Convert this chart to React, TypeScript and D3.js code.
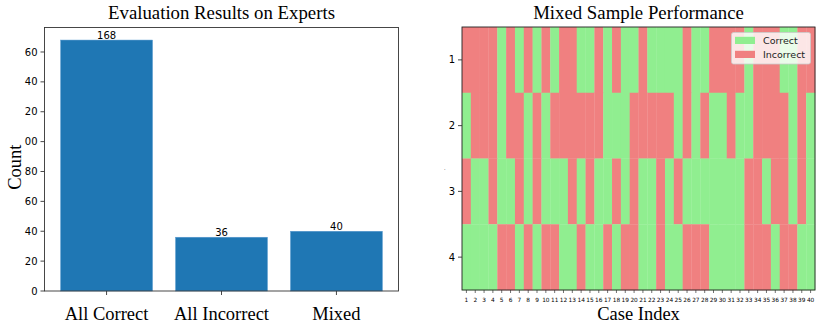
import React from "react";
import * as d3 from "d3";

// ---- Bar chart data ----
const barCategories = ["All Correct", "All Incorrect", "Mixed"];
const barValues = [168, 36, 40];
const yTickValues = [0, 20, 40, 60, 80, 100, 120, 140, 160];
const yTickLabels = ["0", "20", "40", "60", "80", "00", "20", "40", "60"];

// ---- Heatmap data (1 = Correct, 0 = Incorrect) ----
const caseIndex = d3.range(1, 41);
const rowLabels = ["1", "2", "3", "4"];
const row1 = [0,0,0,0,1,0,1,0,1,0, 1,0,0,1,1,0,1,0,1,1, 0,1,1,1,1,0,1,1,0,0, 0,0,1,0,0,0,1,1,0,0];
const row2 = [1,0,0,0,1,0,0,1,0,1, 0,0,0,0,0,0,1,1,1,0, 0,0,0,0,1,0,1,0,1,1, 0,1,1,0,0,0,0,1,0,1];
const row3 = [0,1,1,0,1,1,0,1,0,1, 1,1,0,1,0,1,1,0,1,0, 1,1,0,1,0,1,1,1,1,1, 1,1,0,0,1,0,0,1,0,1];
const row4 = [1,1,1,1,0,0,1,0,1,0, 0,1,1,0,1,1,0,1,0,0, 1,1,0,1,1,0,0,0,1,1, 1,1,0,0,0,1,0,0,1,1];
const heatRows = [row1, row2, row3, row4];
const legendLabels = ["Correct", "Incorrect"];

const GREEN = "#90ee90";
const RED = "#f08080";
const BLUE = "#1f77b4";
const SERIF = "'Liberation Serif', 'Times New Roman', serif";
const SANS = "'DejaVu Sans', sans-serif";

export default function App() {
  // Bar chart geometry
  const L = { left: 44.5, right: 398.5, top: 27.5, bottom: 291 };
  const xb = d3.scaleLinear().domain([-0.54, 2.54]).range([L.left, L.right]);
  const yb = d3.scaleLinear().domain([0, 176.4]).range([L.bottom, L.top]);
  const bw = xb(0.4) - xb(0);

  // Heatmap geometry
  const R = { left: 462, right: 815, top: 27, bottom: 290 };
  const xh = d3.scaleBand<number>().domain(caseIndex).range([R.left, R.right]);
  const yh = d3.scaleBand<string>().domain(rowLabels).range([R.top, R.bottom]);

  return (
    <svg width={830} height={325} style={{ position: "absolute", left: 0, top: 0, background: "#fff" }}>
      {/* ===== Left bar chart ===== */}
      <text x={(L.left + L.right) / 2} y={18.5} textAnchor="middle" fontFamily={SERIF} fontSize={18.8}>
        Evaluation Results on Experts
      </text>
      {barValues.map((v, i) => (
        <g key={i}>
          <rect x={xb(i) - bw} y={yb(v)} width={2 * bw} height={yb(0) - yb(v)} fill={BLUE} stroke="#5b9bd0" strokeWidth={0.5} />
          <text x={xb(i)} y={yb(v) - 1.5} textAnchor="middle" fontFamily={SANS} fontSize={10}>
            {v}
          </text>
        </g>
      ))}
      <rect x={L.left} y={L.top} width={L.right - L.left} height={L.bottom - L.top} fill="none" stroke="#333" strokeWidth={0.9} />
      {yTickValues.map((t, i) => (
        <g key={t}>
          <line x1={L.left - 4} x2={L.left} y1={yb(t)} y2={yb(t)} stroke="#333" strokeWidth={0.9} />
          <text x={L.left - 7} y={yb(t) + 3.6} textAnchor="end" fontFamily={SANS} fontSize={10}>
            {yTickLabels[i]}
          </text>
        </g>
      ))}
      {barCategories.map((c, i) => (
        <g key={c}>
          <line x1={xb(i)} x2={xb(i)} y1={L.bottom} y2={L.bottom + 4} stroke="#333" strokeWidth={0.9} />
          <text x={xb(i)} y={319.5} textAnchor="middle" fontFamily={SERIF} fontSize={18.5}>
            {c}
          </text>
        </g>
      ))}
      <text transform={`translate(21, ${(L.top + L.bottom) / 2 + 8}) rotate(-90)`} textAnchor="middle" fontFamily={SERIF} fontSize={18.5}>
        Count
      </text>

      {/* ===== Right heatmap ===== */}
      <text x={(R.left + R.right) / 2} y={18.5} textAnchor="middle" fontFamily={SERIF} fontSize={18.8}>
        Mixed Sample Performance
      </text>
      {heatRows.map((row, ri) =>
        row.map((v, ci) => (
          <rect
            key={`${ri}-${ci}`}
            x={xh(caseIndex[ci])!}
            y={yh(rowLabels[ri])!}
            width={xh.bandwidth() + 0.3}
            height={yh.bandwidth() + 0.3}
            fill={v === 1 ? GREEN : RED}
          />
        ))
      )}
      <rect x={R.left} y={R.top} width={R.right - R.left} height={R.bottom - R.top} fill="none" stroke="#222" strokeWidth={0.9} />
      {rowLabels.map((r) => (
        <g key={r}>
          <line x1={R.left - 4} x2={R.left} y1={yh(r)! + yh.bandwidth() / 2} y2={yh(r)! + yh.bandwidth() / 2} stroke="#333" strokeWidth={0.9} />
          <text x={R.left - 7} y={yh(r)! + yh.bandwidth() / 2 + 3.6} textAnchor="end" fontFamily={SANS} fontSize={10}>
            {r}
          </text>
        </g>
      ))}
      {caseIndex.map((c) => (
        <g key={c}>
          <line x1={xh(c)! + xh.bandwidth() / 2} x2={xh(c)! + xh.bandwidth() / 2} y1={R.bottom} y2={R.bottom + 3} stroke="#333" strokeWidth={0.7} />
          <text x={xh(c)! + xh.bandwidth() / 2} y={302} textAnchor="middle" fontFamily={SANS} fontSize={5.8}>
            {c}
          </text>
        </g>
      ))}
      <text x={(R.left + R.right) / 2} y={320} textAnchor="middle" fontFamily={SERIF} fontSize={18.5}>
        Case Index
      </text>
      <text x={444} y={170} fontFamily={SANS} fontSize={5}>.</text>

      {/* Legend */}
      <rect x={731.5} y={32.5} width={79} height={31.5} rx={2} fill="#fff" fillOpacity={0.8} stroke="#ccc" strokeWidth={0.8} />
      {legendLabels.map((l, i) => (
        <g key={l}>
          <rect x={735} y={36.8 + i * 14} width={20} height={7.2} fill={i === 0 ? GREEN : RED} />
          <text x={763} y={44 + i * 14} fontFamily={SANS} fontSize={9.5} fill="#222">
            {l}
          </text>
        </g>
      ))}
    </svg>
  );
}
